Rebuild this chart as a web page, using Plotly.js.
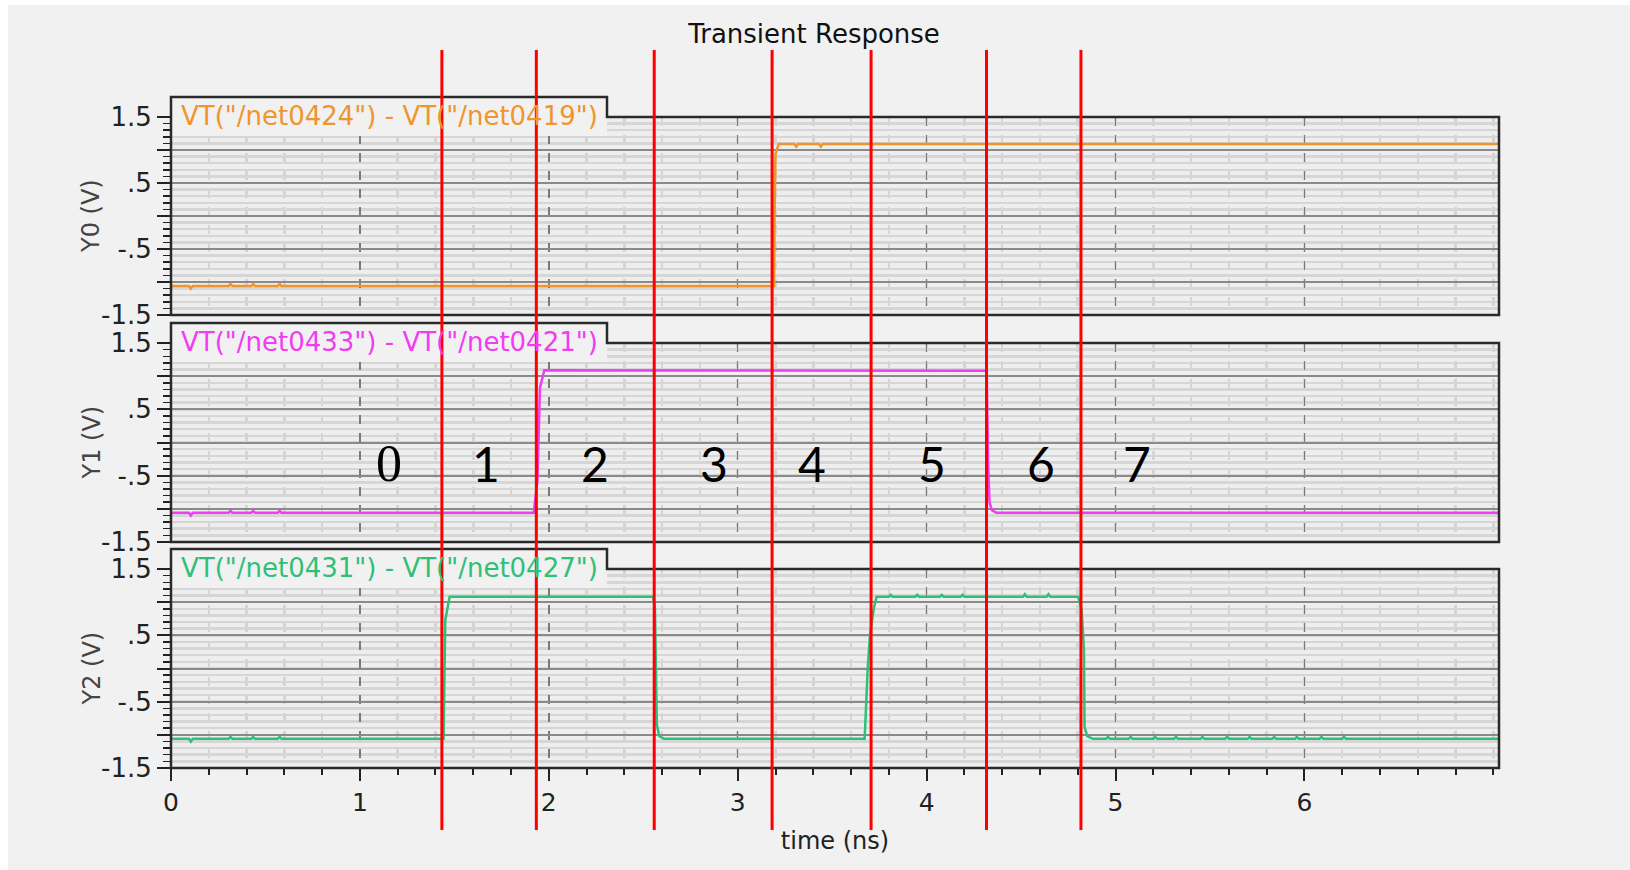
<!DOCTYPE html>
<html><head><meta charset="utf-8">
<script src="https://cdn.plot.ly/plotly-3.0.1.min.js"></script>
<style>html,body{margin:0;padding:0;background:#ffffff;} #chart{width:1630px;height:870px;}</style>
</head><body><div id="chart"></div>
<script>
// ---------------- data ----------------
const chartTitle = 'Transient Response';
const xTitle = 'time (ns)';
const yTitles = ['Y0 (V)', 'Y1 (V)', 'Y2 (V)'];
const seriesNames = ['VT("/net0424") - VT("/net0419")', 'VT("/net0433") - VT("/net0421")', 'VT("/net0431") - VT("/net0427")'];
const seriesColors = ['#f0952c', '#f23cf2', '#2fc078'];
const yTickVals = [-1.5, -1, -0.5, 0, 0.5, 1, 1.5];
const yTickText = ['-1.5', '', '-.5', '', '.5', '', '1.5'];
const xTickVals = [0, 1, 2, 3, 4, 5, 6];
const xTickText = ['0', '1', '2', '3', '4', '5', '6'];
const xRange = [0, 7.03];

const y0Time = [0, 0.095, 0.105, 0.115, 0.305, 0.315, 0.325, 0.425, 0.435, 0.445, 0.565, 0.575, 0.585,
  3.177, 3.193, 3.195, 3.200, 3.217, 3.300, 3.310, 3.320, 3.430, 3.440, 3.450, 7.03];
const y0Volt = [-1.06, -1.06, -1.10, -1.06, -1.06, -1.03, -1.06, -1.06, -1.03, -1.06, -1.06, -1.03, -1.06,
  -1.06, -1.06, -0.02, 0.94, 1.09, 1.09, 1.05, 1.09, 1.09, 1.05, 1.09, 1.09];

const y1Time = [0, 0.095, 0.105, 0.115, 0.305, 0.315, 0.325, 0.425, 0.435, 0.445, 0.565, 0.575, 0.585,
  1.920, 1.940, 1.953, 1.976, 4.300, 4.318, 4.325, 4.333, 4.345, 4.370, 7.03];
const y1Volt = [-1.06, -1.06, -1.10, -1.06, -1.06, -1.03, -1.06, -1.06, -1.03, -1.06, -1.06, -1.03, -1.06,
  -1.06, -0.57, 0.82, 1.09, 1.09, 1.08, -0.26, -0.90, -1.02, -1.06, -1.06];

const y2Time = [0, 0.095, 0.105, 0.115, 0.305, 0.315, 0.325, 0.425, 0.435, 0.445, 0.565, 0.575, 0.585,
  1.443, 1.445, 1.452, 1.475, 2.552, 2.562, 2.566, 2.572, 2.585, 2.610,
  3.672, 3.688, 3.700, 3.720, 3.735,
  3.800, 3.810, 3.820, 3.940, 3.950, 3.960, 4.070, 4.080, 4.090, 4.180, 4.190, 4.200,
  4.510, 4.520, 4.530, 4.635, 4.645, 4.655,
  4.802, 4.820, 4.833, 4.836, 4.850, 4.880,
  4.950, 4.960, 4.970, 5.070, 5.080, 5.090, 5.200, 5.210, 5.220, 5.310, 5.320, 5.330,
  5.450, 5.460, 5.470, 5.580, 5.590, 5.600, 5.700, 5.710, 5.720, 5.830, 5.840, 5.850,
  5.950, 5.960, 5.970, 6.080, 6.090, 6.100, 6.200, 6.210, 6.220, 7.03];
const y2Volt = [-1.06, -1.06, -1.10, -1.06, -1.06, -1.03, -1.06, -1.06, -1.03, -1.06, -1.06, -1.03, -1.06,
  -1.06, -0.60, 0.73, 1.08, 1.08, 0.90, 0.10, -0.85, -1.02, -1.06,
  -1.06, -0.01, 0.50, 0.90, 1.08,
  1.08, 1.11, 1.08, 1.08, 1.11, 1.08, 1.08, 1.11, 1.08, 1.08, 1.11, 1.08,
  1.08, 1.12, 1.08, 1.08, 1.12, 1.08,
  1.08, 0.90, 0.28, -0.88, -1.02, -1.06,
  -1.06, -1.03, -1.06, -1.06, -1.03, -1.06, -1.06, -1.03, -1.06, -1.06, -1.03, -1.06,
  -1.06, -1.03, -1.06, -1.06, -1.03, -1.06, -1.06, -1.03, -1.06, -1.06, -1.03, -1.06,
  -1.06, -1.03, -1.06, -1.06, -1.03, -1.06, -1.06, -1.03, -1.06, -1.06];

const stateBoundaries = [1.434, 1.934, 2.558, 3.182, 3.706, 4.317, 4.817];
const stateLabels = ['0', '1', '2', '3', '4', '5', '6', '7'];
const stateLabelX = [1.153, 1.667, 2.243, 2.873, 3.392, 4.026, 4.608, 5.116];
const stateLabelY = -0.31;

// ---------------- layout helpers ----------------
const W = 1630, H = 870, ML = 171, MR = 131, MT = 117, MB = 102;
const PW = W - ML - MR, PH = H - MT - MB;
const fx = p => (p - ML) / PW;          // pixel x -> paper
const fy = p => (H - MB - p) / PH;      // pixel y -> paper
const panels = [[117, 315], [343, 542], [569, 768]];
const tabRight = 607, plotRight = 1499;
const FONT = 'DejaVu Sans, Arial, sans-serif';
const BG = '#f1f1f1';

const timeArr = [y0Time, y1Time, y2Time];
const voltArr = [y0Volt, y1Volt, y2Volt];
const yNames = ['y', 'y2', 'y3'];

const traces = timeArr.map((t, i) => ({
  type: 'scatter', mode: 'lines', x: t, y: voltArr[i],
  xaxis: 'x', yaxis: yNames[i], name: seriesNames[i],
  line: {color: seriesColors[i], width: 2.5}, hoverinfo: 'x+y'
}));

function yAxis(i) {
  return {
    domain: [fy(panels[i][1]), fy(panels[i][0])],
    range: [-1.5, 1.5], anchor: 'x',
    tickmode: 'array', tickvals: yTickVals, ticktext: yTickText,
    ticks: 'outside', ticklen: 13, tickwidth: 2, tickcolor: '#222',
    tickfont: {family: FONT, size: 26, color: '#222'},
    showgrid: true, gridcolor: '#8a8a8a', gridwidth: 2,
    zeroline: false, showline: false,
    minor: {tickmode: 'linear', tick0: 0, dtick: 0.1, ticks: 'outside', ticklen: 7, tickwidth: 1.5,
            tickcolor: '#222', showgrid: true, gridcolor: '#d6d6d6', gridwidth: 2.5}
  };
}

const shapes = [
  {type: 'rect', xref: 'paper', yref: 'paper', x0: fx(0), x1: fx(8), y0: fy(H), y1: fy(0),
   fillcolor: '#ffffff', line: {width: 0}, layer: 'below'},
  {type: 'rect', xref: 'paper', yref: 'paper', x0: fx(0), x1: fx(W), y0: fy(5), y1: fy(0),
   fillcolor: '#ffffff', line: {width: 0}, layer: 'below'}
];
const annotations = [];
panels.forEach((p, i) => {
  const top = p[0], bot = p[1];
  shapes.push({type: 'rect', xref: 'paper', yref: 'paper', x0: fx(ML), x1: fx(tabRight),
    y0: fy(top + 19), y1: fy(top - 20), fillcolor: BG, line: {width: 0}, layer: 'above'});
  const path = `M ${fx(ML)},${fy(bot)} L ${fx(ML)},${fy(top - 20)} L ${fx(tabRight)},${fy(top - 20)} ` +
    `L ${fx(tabRight)},${fy(top)} L ${fx(plotRight)},${fy(top)} L ${fx(plotRight)},${fy(bot)} Z`;
  shapes.push({type: 'path', xref: 'paper', yref: 'paper', path: path,
    line: {color: '#2a2a2a', width: 2.5}, fillcolor: 'rgba(0,0,0,0)', layer: 'above'});
  annotations.push({xref: 'paper', yref: 'paper', x: fx(179), y: fy(top - 1), xanchor: 'left', yanchor: 'middle',
    text: seriesNames[i], showarrow: false, font: {family: FONT, size: 26, color: seriesColors[i]}});
  // y-axis title (rotated)
  annotations.push({xref: 'paper', yref: 'paper', x: fx(91), y: fy((top + bot) / 2), xanchor: 'center', yanchor: 'middle',
    text: yTitles[i], textangle: -90, showarrow: false, font: {family: FONT, size: 24, color: '#444'}});
});
stateBoundaries.forEach(b => {
  shapes.push({type: 'line', xref: 'x', yref: 'paper', x0: b, x1: b, y0: fy(830), y1: fy(50),
    line: {color: '#ff0000', width: 3}, layer: 'above'});
});
stateLabels.forEach((s, i) => {
  annotations.push({xref: 'x', yref: 'y2', x: stateLabelX[i], y: stateLabelY, text: s, showarrow: false,
    xanchor: 'center', yanchor: 'middle',
    font: {family: i === 0 ? 'Liberation Serif, serif' : 'Lato, Carlito, sans-serif', size: i === 0 ? 52 : 48, color: '#000'}});
});

const layout = {
  width: W, height: H,
  margin: {l: ML, r: MR, t: MT, b: MB, pad: 0},
  paper_bgcolor: BG, plot_bgcolor: '#eeeeee',
  showlegend: false,
  title: {text: chartTitle, font: {family: FONT, size: 26, color: '#111'},
          x: 814 / W, xref: 'container', xanchor: 'center', y: 1 - 34 / H, yref: 'container', yanchor: 'middle'},
  xaxis: {
    domain: [0, 1], range: xRange, anchor: 'y3',
    tickmode: 'array', tickvals: xTickVals, ticktext: xTickText,
    ticks: 'outside', ticklen: 12, tickwidth: 2, tickcolor: '#222',
    tickfont: {family: FONT, size: 25, color: '#222'},
    showgrid: true, gridcolor: '#7a7a7a', gridwidth: 1.5, griddash: 'dash',
    zeroline: false, showline: false,
    minor: {tickmode: 'linear', tick0: 0, dtick: 0.2, ticks: 'outside', ticklen: 6, tickwidth: 2,
            tickcolor: '#222', showgrid: true, gridcolor: '#d5d5d5', gridwidth: 2.5},
    title: {text: xTitle, font: {family: FONT, size: 24, color: '#222'}, standoff: 16}
  },
  yaxis: yAxis(0), yaxis2: yAxis(1), yaxis3: yAxis(2),
  shapes: shapes, annotations: annotations
};

Plotly.newPlot('chart', traces, layout, {displayModeBar: false, staticPlot: true});
</script>
</body></html>
